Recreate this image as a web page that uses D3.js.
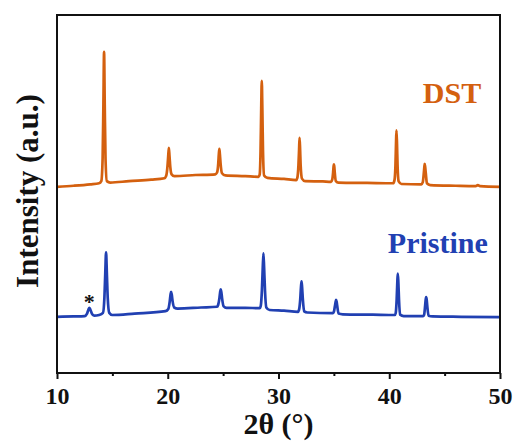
<!DOCTYPE html>
<html>
<head>
<meta charset="utf-8">
<script src="https://cdn.jsdelivr.net/npm/d3@7/dist/d3.min.js"></script>
<style>
    body { margin: 0; background: #fff; }
    svg { display: block; }
    text { font-family: "Liberation Serif", "Times New Roman", serif; font-weight: bold; }
</style>
</head>
<body>
<svg id="chart" width="515" height="448"></svg>
<script>
/*global d3*/

// 2-theta range and tick labels
var xTicks = [10, 20, 30, 40, 50],
    xMinorTicks = [15, 25, 35, 45];

// DST pattern, [2theta, intensity (a.u.)]
var dstPattern = [
    [10.0, 52.0], [11.5, 52.3], [13.0, 52.7], [13.8, 53.0],
    [14.0, 53.6], [14.12, 60], [14.19, 75], [14.25, 89.7], [14.31, 75], [14.38, 60], [14.5, 53.6],
    [14.8, 53.2], [16.5, 53.6], [18.5, 54.0], [19.7, 54.4],
    [19.85, 55], [19.97, 57.5], [20.04, 60.5], [20.1, 62.9], [20.16, 60.5], [20.23, 57.5], [20.35, 55.5],
    [20.6, 55.0], [22.5, 55.3], [24.3, 55.5],
    [24.45, 56], [24.56, 58.5], [24.61, 61], [24.66, 62.6], [24.71, 61], [24.77, 58.5], [24.9, 55.8],
    [25.2, 55.2], [27.0, 55.0], [28.2, 54.8],
    [28.3, 55.4], [28.38, 62], [28.44, 74], [28.49, 81.6], [28.54, 74], [28.6, 62], [28.7, 55.2],
    [29.0, 54.5], [30.5, 54.2], [31.6, 53.9],
    [31.7, 54.5], [31.8, 58], [31.86, 62.5], [31.9, 65.7], [31.95, 62.5], [32.0, 58], [32.12, 54.3],
    [32.4, 53.6], [34.0, 53.5], [34.75, 53.4],
    [34.85, 54], [34.93, 56], [34.97, 57.6], [35.0, 58.3], [35.04, 57.6], [35.08, 56], [35.18, 53.6],
    [35.4, 53.2], [38.0, 53.1], [40.35, 53.0],
    [40.47, 53.8], [40.56, 58], [40.61, 64], [40.65, 67.8], [40.7, 64], [40.75, 58], [40.85, 53.5],
    [41.1, 52.8], [42.9, 52.7],
    [43.03, 53.3], [43.12, 55.8], [43.17, 57.6], [43.2, 58.4], [43.24, 57.6], [43.3, 55.8], [43.4, 53],
    [43.7, 52.5], [46.0, 52.3], [47.8, 52.2], [48.0, 52.5], [48.2, 52.2], [50.0, 52.0]
];

// Pristine pattern, [2theta, intensity (a.u.)]
var pristinePattern = [
    [10.0, 15.7], [11.5, 15.8], [12.5, 15.9],
    [12.7, 16.5], [12.85, 17.8], [12.92, 18.2], [13.0, 17.8], [13.15, 16.6], [13.35, 16.0],
    [13.8, 16.2],
    [14.15, 16.8], [14.28, 21], [14.36, 28], [14.43, 33.7], [14.5, 28], [14.58, 21], [14.72, 16.8],
    [15.0, 16.2], [17.0, 16.6], [19.8, 17.3],
    [20.05, 17.9], [20.18, 20], [20.25, 21.9], [20.3, 22.7], [20.36, 21.9], [20.44, 20], [20.58, 18.3],
    [20.9, 18.0], [23.0, 18.3], [24.45, 18.5],
    [24.55, 19.0], [24.67, 21], [24.73, 22.6], [24.78, 23.4], [24.84, 22.6], [24.9, 21], [25.05, 18.6],
    [25.3, 18.2], [27.0, 18.2], [28.3, 18.1],
    [28.4, 18.8], [28.5, 23], [28.58, 29.5], [28.64, 33.4], [28.7, 29.5], [28.78, 23], [28.9, 18.3],
    [29.2, 17.6], [30.5, 17.4], [31.75, 17.1],
    [31.85, 17.6], [31.96, 20.5], [32.03, 24], [32.08, 25.6], [32.13, 24], [32.2, 20.5], [32.32, 17.2],
    [32.6, 16.9], [34.9, 16.7],
    [35.0, 17.1], [35.1, 18.8], [35.16, 19.9], [35.2, 20.4], [35.25, 19.9], [35.3, 18.8], [35.42, 16.6],
    [35.8, 16.4], [38.5, 16.3], [40.5, 16.2],
    [40.58, 16.7], [40.67, 20.5], [40.73, 25.5], [40.77, 27.8], [40.82, 25.5], [40.88, 20.5], [40.98, 16.3],
    [41.3, 15.9], [43.05, 15.9],
    [43.15, 16.3], [43.24, 18.8], [43.29, 20.5], [43.33, 21.2], [43.38, 20.5], [43.43, 18.8], [43.55, 16.0],
    [43.9, 15.8], [46.5, 15.7], [50.0, 15.6]
];

// impurity peak marked with an asterisk
var impurityPeak = [12.92, 18.2];

(function () {
    "use strict";

    var margin = {top: 15, right: 15, bottom: 75, left: 57},
        width = 515 - margin.left - margin.right,
        height = 448 - margin.top - margin.bottom,
        svg = d3.select("#chart"),
        g = svg.append("g").attr("transform", "translate(" + margin.left + "," + margin.top + ")"),
        x = d3.scaleLinear().domain([10, 50]).range([0, width]),
        y = d3.scaleLinear().domain([0, 100]).range([height, 0]),
        line = d3.line()
            .x(function (d) { return x(d[0]); })
            .y(function (d) { return y(d[1]); })
            .curve(d3.curveMonotoneX),
        xAxis,
        minorAxis;

    // the two patterns
    g.append("path")
        .datum(dstPattern)
        .attr("fill", "none")
        .attr("stroke", "#D4600F")
        .attr("stroke-width", 2.7)
        .attr("stroke-linejoin", "round")
        .attr("d", line);

    g.append("path")
        .datum(pristinePattern)
        .attr("fill", "none")
        .attr("stroke", "#2140B2")
        .attr("stroke-width", 2.7)
        .attr("stroke-linejoin", "round")
        .attr("d", line);

    // frame
    g.append("rect")
        .attr("width", width)
        .attr("height", height)
        .attr("fill", "none")
        .attr("stroke", "#111")
        .attr("stroke-width", 2);

    // x axis, major and minor ticks
    xAxis = g.append("g")
        .attr("transform", "translate(0," + height + ")")
        .call(d3.axisBottom(x).tickValues(xTicks).tickSize(6).tickPadding(8).tickFormat(d3.format("d")));
    xAxis.select(".domain").remove();
    xAxis.selectAll("line").attr("stroke", "#111").attr("stroke-width", 2);
    xAxis.selectAll("text")
        .attr("fill", "#111")
        .style("font-size", "24px");

    minorAxis = g.append("g")
        .attr("transform", "translate(0," + height + ")")
        .call(d3.axisBottom(x).tickValues(xMinorTicks).tickSize(3).tickFormat(""));
    minorAxis.select(".domain").remove();
    minorAxis.selectAll("line").attr("stroke", "#111").attr("stroke-width", 2);

    // axis titles
    svg.append("text")
        .attr("x", margin.left + width / 2)
        .attr("y", 434)
        .attr("text-anchor", "middle")
        .attr("fill", "#111")
        .style("font-size", "30px")
        .text("2θ (°)");

    svg.append("text")
        .attr("transform", "translate(38," + 191 + ") rotate(-90)")
        .attr("text-anchor", "middle")
        .attr("fill", "#111")
        .style("font-size", "31px")
        .text("Intensity (a.u.)");

    // series labels
    g.append("text")
        .attr("x", x(48.3))
        .attr("y", y(75.5))
        .attr("text-anchor", "end")
        .attr("fill", "#D4600F")
        .style("font-size", "30px")
        .text("DST");

    g.append("text")
        .attr("x", x(48.9))
        .attr("y", y(33.6))
        .attr("text-anchor", "end")
        .attr("fill", "#2140B2")
        .style("font-size", "30px")
        .text("Pristine");

    // asterisk over the impurity peak
    g.append("text")
        .attr("x", x(impurityPeak[0]))
        .attr("y", y(impurityPeak[1]) + 1)
        .attr("text-anchor", "middle")
        .attr("fill", "#111")
        .style("font-size", "22px")
        .text("*");
}());
</script>
</body>
</html>
